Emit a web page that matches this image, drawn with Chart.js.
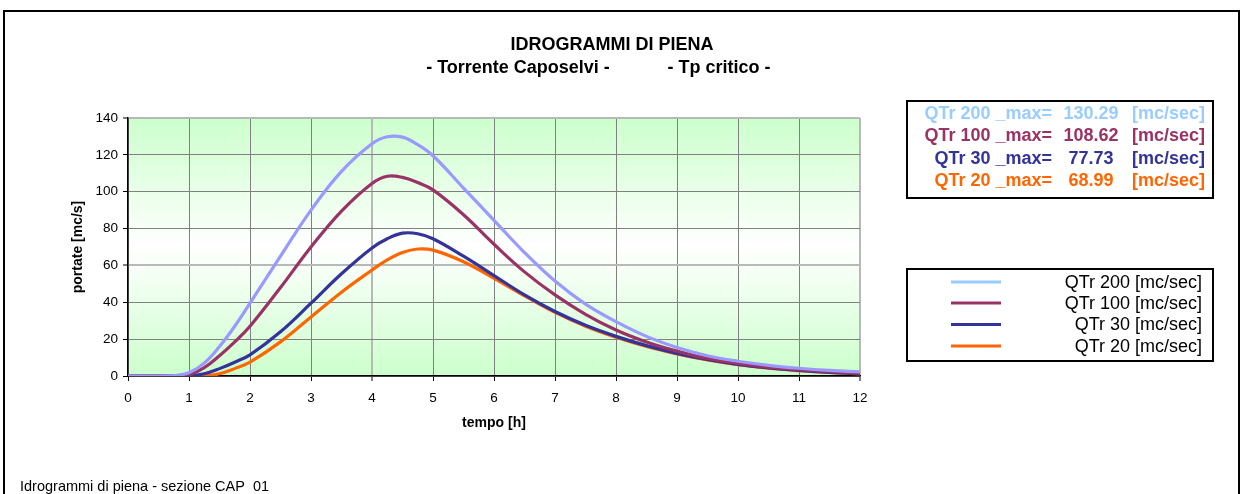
<!DOCTYPE html>
<html>
<head>
<meta charset="utf-8">
<script src="https://cdn.jsdelivr.net/npm/chart.js@4.4.1/dist/chart.umd.min.js"></script>
<style>
  html, body { margin: 0; padding: 0; background: #ffffff; }
  #wrap { width: 1242px; height: 494px; position: relative; }
</style>
</head>
<body>
<div id="wrap"><canvas id="c" width="1242" height="494"></canvas></div>
<script>
// ---- data ----
const times = [0,0.5,0.75,1,1.25,1.5,1.75,2,2.5,3,3.5,4,4.25,4.5,4.75,5,5.5,6,6.5,7,7.5,8,8.5,9,9.5,10,10.5,11,11.5,12];
const q200 = [0,0,0.2,1.8,7,16,27,39.5,65,90,111,126,129.8,129.6,125.5,119.5,102,84.5,67,51.5,39,29.5,21.5,15.5,11,8,5.8,4.2,3,2.2];
const q100 = [0,0,0,0.6,4.5,11,18.5,27,48,70,89.5,104.5,108.4,107.8,105,101,87.5,71.5,56.5,44,33.5,25,18.5,13.5,9.5,6.8,4.8,3.4,2.4,1.6];
const q30  = [0,0,0,0,1.2,4,7.5,11.5,24,39.5,55.5,69.5,74.5,77.5,77.2,74.5,65,54.5,44,35,27.5,21.5,16.5,12.3,9,6.3,4.4,3,2,1.3];
const q20  = [0,0,0,0,0,1.2,4,7.5,18.5,32,45.5,57.5,63,67,68.9,68.3,62,53,43.5,34.5,27,21,16,12,8.7,6.1,4.2,2.9,1.9,1.2];
const seriesLabels = ['QTr 200 [mc/sec]','QTr 100 [mc/sec]','QTr 30 [mc/sec]','QTr 20 [mc/sec]'];
const maxNames = ['QTr 200 _max=','QTr 100 _max=','QTr 30 _max=','QTr 20 _max='];
const maxValues = ['130.29','108.62','77.73','68.99'];
const titleLines = ['IDROGRAMMI DI PIENA','- Torrente Caposelvi -','- Tp critico -'];
const footerText = 'Idrogrammi di piena - sezione CAP  01';
const xTitle = 'tempo [h]';
const yTitle = 'portate [mc/s]';

const lineColors = ['#9999ff','#993366','#333399','#ff6600'];
const textColors = ['#99ccff','#993366','#333399','#ff6600'];
const legendColors = ['#99ccff','#993366','#333399','#ff6600'];
const FONT = '"Liberation Sans", Arial, sans-serif';

const mk = arr => times.map((t, i) => ({x: t, y: arr[i]}));

const decor = {
  id: 'decor',
  beforeDraw(chart) {
    const {ctx, chartArea: a} = chart;
    ctx.save();
    const g = ctx.createLinearGradient(0, a.top, 0, a.bottom);
    g.addColorStop(0, '#ccffcc');
    g.addColorStop(0.5, '#ffffff');
    g.addColorStop(1, '#ccffcc');
    ctx.fillStyle = g;
    ctx.fillRect(a.left, a.top, a.right - a.left, a.bottom - a.top);
    ctx.restore();
  },
  afterDraw(chart) {
    const ctx = chart.ctx;
    ctx.save();
    // outer frame
    ctx.strokeStyle = '#000';
    ctx.lineWidth = 2;
    ctx.beginPath();
    ctx.moveTo(4, 520); ctx.lineTo(4, 11); ctx.lineTo(1239, 11); ctx.lineTo(1239, 520);
    ctx.stroke();
    // title
    ctx.fillStyle = '#000';
    ctx.textBaseline = 'middle';
    ctx.textAlign = 'center';
    ctx.font = 'bold 18px ' + FONT;
    ctx.fillText(titleLines[0], 612, 45);
    ctx.fillText(titleLines[1], 518, 68);
    ctx.fillText(titleLines[2], 719, 68);
    // max box
    ctx.lineWidth = 2;
    ctx.strokeStyle = '#000';
    ctx.strokeRect(907, 101, 306, 97);
    const rowsMax = [114, 136.5, 159, 181.5];
    ctx.font = 'bold 18px ' + FONT;
    for (let i = 0; i < 4; i++) {
      ctx.fillStyle = textColors[i];
      ctx.textAlign = 'right';
      ctx.fillText(maxNames[i], 1052, rowsMax[i]);
      ctx.textAlign = 'center';
      ctx.fillText(maxValues[i], 1091, rowsMax[i]);
      ctx.textAlign = 'right';
      ctx.fillText('[mc/sec]', 1205, rowsMax[i]);
    }
    // legend box
    ctx.strokeStyle = '#000';
    ctx.lineWidth = 2;
    ctx.strokeRect(907, 269, 306, 92);
    const rowsLeg = [282, 303, 324.5, 346];
    ctx.font = '18px ' + FONT;
    for (let i = 0; i < 4; i++) {
      ctx.strokeStyle = legendColors[i];
      ctx.lineWidth = 3;
      ctx.beginPath();
      ctx.moveTo(951, rowsLeg[i]); ctx.lineTo(1001, rowsLeg[i]);
      ctx.stroke();
      ctx.fillStyle = '#000';
      ctx.textAlign = 'right';
      ctx.fillText(chart.data.datasets[i].label, 1202, rowsLeg[i] + 1);
    }
    // footer
    ctx.textAlign = 'left';
    ctx.font = '14.5px ' + FONT;
    ctx.fillStyle = '#000';
    ctx.fillText(footerText, 20, 487);
    ctx.restore();
  }
};

const gridCol = v => (v === 60 || v === 140) ? '#b8b8b8' : '#808080';
const gridW = v => (v === 60 || v === 140) ? 2 : 1;
const gridColX = v => (v === 4 || v === 12) ? '#b8b8b8' : '#808080';
const gridWX = v => (v === 4 || v === 12) ? 2 : 1;

new Chart(document.getElementById('c'), {
  type: 'line',
  data: {
    datasets: [
      {label: seriesLabels[0], data: mk(q200), borderColor: lineColors[0]},
      {label: seriesLabels[1], data: mk(q100), borderColor: lineColors[1]},
      {label: seriesLabels[2], data: mk(q30), borderColor: lineColors[2]},
      {label: seriesLabels[3], data: mk(q20), borderColor: lineColors[3]}
    ].map(d => Object.assign(d, {borderWidth: 3.2, pointRadius: 0, tension: 0.4, fill: false}))
  },
  options: {
    responsive: false,
    devicePixelRatio: 1,
    animation: false,
    layout: {padding: {left: 68, top: 118, right: 382, bottom: 58}},
    plugins: {legend: {display: false}, title: {display: false}, tooltip: {enabled: false}},
    scales: {
      x: {
        type: 'linear', min: 0, max: 12,
        afterFit: s => { s.height = 60; },
        ticks: {stepSize: 1, color: '#000', font: {family: FONT, size: 13.5}, padding: 9, maxRotation: 0},
        grid: {color: c => gridColX(c.tick.value), lineWidth: c => gridWX(c.tick.value), tickColor: '#000', tickWidth: 1, tickLength: 5},
        border: {color: '#000', width: 1.5},
        title: {display: true, text: xTitle, color: '#000', font: {family: FONT, size: 14, weight: 'bold'}, padding: {top: 0, bottom: 4}}
      },
      y: {
        min: 0, max: 140,
        afterFit: s => { s.width = 60; },
        ticks: {stepSize: 20, color: '#000', font: {family: FONT, size: 13.5}, padding: 5},
        grid: {color: c => gridCol(c.tick.value), lineWidth: c => gridW(c.tick.value), tickColor: '#000', tickWidth: 1, tickLength: 5},
        border: {color: '#000', width: 1.5},
        title: {display: true, text: yTitle, color: '#000', font: {family: FONT, size: 14, weight: 'bold'}, padding: {top: 2, bottom: 0}}
      }
    }
  },
  plugins: [decor]
});
</script>
</body>
</html>
